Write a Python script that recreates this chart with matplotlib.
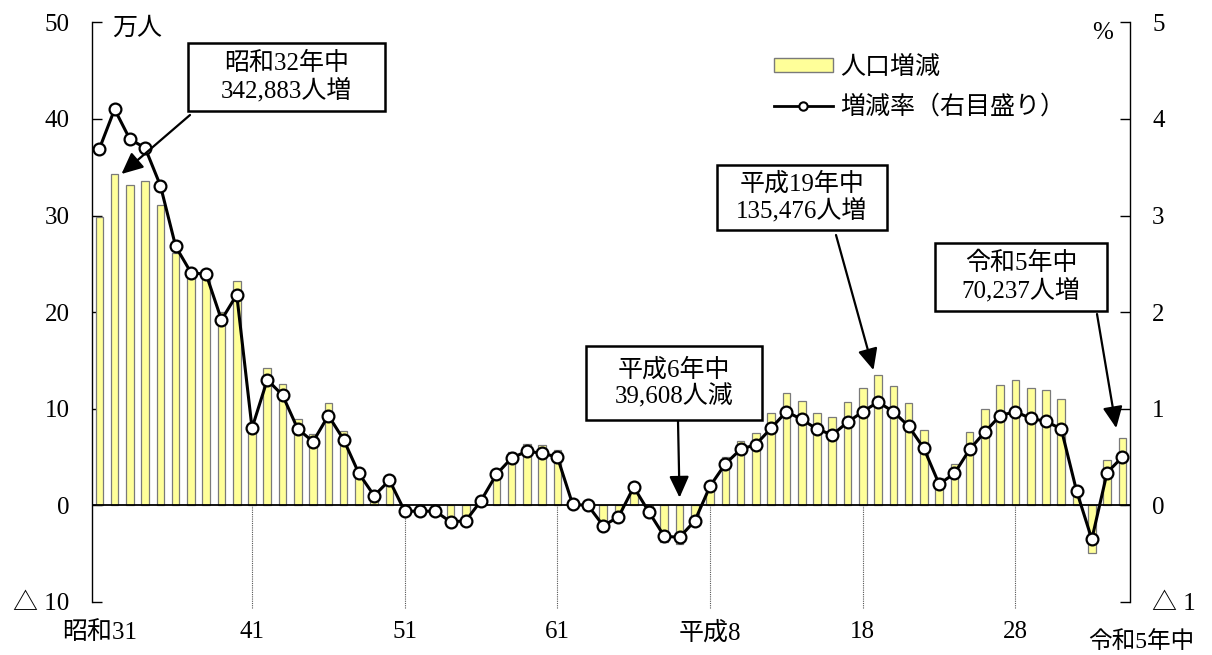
import numpy as np
import matplotlib
matplotlib.use('Agg')
import matplotlib.pyplot as plt
from matplotlib.patches import Rectangle, Patch
from matplotlib.lines import Line2D

plt.rcParams['font.family'] = ['Liberation Serif', 'Noto Sans CJK JP', 'DejaVu Sans']

# 昭和31年(1956)〜令和5年(2023)
years = list(range(1956, 2024))

# 人口増減（万人）
pop_change = [29.8, 34.3, 33.2, 33.6, 31.1, 26.1, 24.0, 24.2, 20.0, 23.2,
              8.2, 14.2, 12.6, 8.9, 7.4, 10.6, 7.7, 3.6, 1.1, 2.7,
              -0.6, -0.6, -0.6, -1.6, -1.5, 0.5, 3.6, 5.5, 6.4, 6.3,
              5.7, 0.1, -0.1, -2.2, -1.3, 2.0, -0.8, -3.8, -3.96, -1.8,
              2.3, 5.0, 6.7, 7.5, 9.6, 11.6, 10.8, 9.6, 9.1, 10.7,
              12.1, 13.5, 12.4, 10.6, 7.8, 2.8, 4.3, 7.6, 10.0, 12.5,
              13.0, 12.2, 11.9, 11.0, 2.0, -4.9, 4.7, 7.0]

# 増減率（%）
rate = [3.69, 4.10, 3.79, 3.70, 3.31, 2.68, 2.41, 2.39, 1.92, 2.18,
        0.80, 1.30, 1.14, 0.79, 0.66, 0.93, 0.68, 0.33, 0.10, 0.26,
        -0.06, -0.06, -0.06, -0.17, -0.16, 0.05, 0.32, 0.49, 0.56, 0.54,
        0.50, 0.01, 0.00, -0.21, -0.12, 0.19, -0.07, -0.32, -0.33, -0.16,
        0.20, 0.43, 0.58, 0.63, 0.80, 0.97, 0.89, 0.79, 0.73, 0.86,
        0.97, 1.07, 0.97, 0.82, 0.59, 0.22, 0.33, 0.58, 0.76, 0.93,
        0.97, 0.90, 0.87, 0.79, 0.15, -0.35, 0.34, 0.50]

xtick_years = [1956, 1966, 1976, 1986, 1996, 2006, 2016]
xtick_labels = ['昭和31', '41', '51', '61', '平成8', '18', '28']

left_ticks = [-10, 0, 10, 20, 30, 40, 50]
left_labels = ['△ 10', '0', '10', '20', '30', '40', '50']
right_ticks = [-1, 0, 1, 2, 3, 4, 5]
right_labels = ['△ 1', '0', '1', '2', '3', '4', '5']

W, H = 1212, 655
x = np.arange(len(years))

fig = plt.figure(figsize=(W / 100, H / 100), dpi=100)
ax = fig.add_axes([91.7 / W, 1 - 602 / H, (1130 - 91.7) / W, (602 - 22.3) / H])
ax2 = ax.twinx()

# bars
ax.bar(x, pop_change, width=0.5, color='#FFFF99', edgecolor='#7a7a7a', linewidth=0.9, zorder=2)
ax.axhline(0, color='black', lw=1.3, zorder=3)

# rate line
ax2.plot(x, rate, color='black', lw=2.2, marker='o', ms=8.5, mfc='white',
         mec='black', mew=1.6, zorder=4)

ax.set_xlim(-0.5, len(years) - 0.5)
ax.set_ylim(-10, 50)
ax2.set_ylim(-1, 5)

xpos = [years.index(y) for y in xtick_years]
ax.set_xticks(xpos)
ax.set_xticklabels(xtick_labels, fontsize=18)
ax.tick_params(axis='x', length=0, pad=14)
ax.vlines(xpos[1:], -10.6, 0, colors='#555555', linestyles=(0, (1, 1)), lw=0.8, clip_on=False)

ax.set_yticks(left_ticks)
ax.set_yticklabels(left_labels, fontsize=18)
ax.tick_params(axis='y', direction='in', length=7, width=1, pad=16)
ax2.set_yticks(right_ticks)
ax2.set_yticklabels(right_labels, fontsize=18)
ax2.tick_params(axis='y', direction='in', length=7, width=1, pad=16)

for s in ['top', 'bottom', 'right']:
    ax.spines[s].set_visible(False)
for s in ['top', 'bottom', 'left']:
    ax2.spines[s].set_visible(False)
ax.spines['left'].set_linewidth(1)
ax2.spines['right'].set_linewidth(1)

fig.text(137 / W, 1 - 29 / H, '万人', fontsize=18, ha='center', va='center')
fig.text(1103 / W, 1 - 33 / H, '%', fontsize=18, ha='center', va='center')
fig.text(1141 / W, 1 - 642 / H, '令和5年中', fontsize=17, ha='center', va='center')

# legend
handles = [Patch(facecolor='#FFFF99', edgecolor='#7a7a7a'),
           Line2D([], [], color='black', lw=2, marker='o', ms=6, mfc='white', mec='black', mew=1.5)]
fig.legend(handles, ['人口増減', '増減率（右目盛り）'], loc='upper left',
           bbox_to_anchor=(774 / W, 1 - 56 / H), frameon=False, fontsize=18,
           handlelength=2.35, handleheight=0.45, handletextpad=0.3,
           labelspacing=0.62, borderpad=0, borderaxespad=0)

# annotation boxes (x0, y0, x1, y1 in pixels), text, arrow start, arrow tip (data)
notes = [
    ((188, 43, 385, 111), '昭和32年中\n342,883人増', (190, 115), (1.45, pop_change[1])),
    ((586, 346, 762, 420), '平成6年中\n39,608人減', (678, 421), (38, 0.8)),
    ((717, 165, 887, 230), '平成19年中\n135,476人増', (836, 235), (50.7, pop_change[51] + 0.5)),
    ((935, 243, 1107, 311), '令和5年中\n70,237人増', (1097, 314), (66.6, pop_change[67] + 1.0)),
]
for (x0, y0, x1, y1), txt, start, tip in notes:
    fig.add_artist(Rectangle((x0 / W, 1 - y1 / H), (x1 - x0) / W, (y1 - y0) / H,
                             transform=fig.transFigure, facecolor='white',
                             edgecolor='black', lw=1.8, zorder=5))
    fig.text((x0 + x1) / 2 / W, 1 - (y0 + y1) / 2 / H, txt, fontsize=18,
             ha='center', va='center', linespacing=1.12, zorder=6)
    ax2.annotate('', xy=tip, xycoords=ax.transData,
                 xytext=(start[0] / W, 1 - start[1] / H), textcoords='figure fraction',
                 arrowprops=dict(arrowstyle='-|>,head_length=0.65,head_width=0.3',
                                 mutation_scale=20, color='black', lw=1.6,
                                 shrinkA=0, shrinkB=0),
                 annotation_clip=False, zorder=6)

fig.savefig('out.png', dpi=100)
